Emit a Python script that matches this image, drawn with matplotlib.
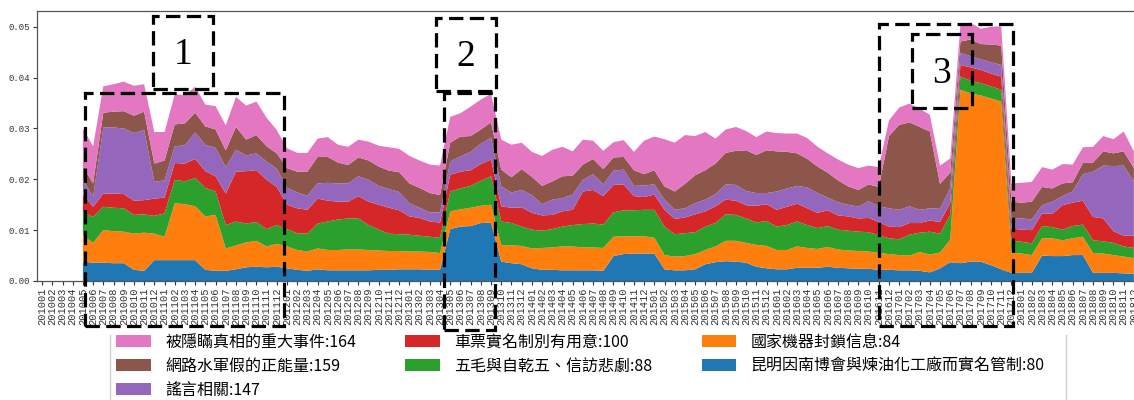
import numpy as np
import matplotlib
matplotlib.use("Agg")
import matplotlib.pyplot as plt
from matplotlib.patches import Rectangle
from matplotlib.lines import Line2D

# monthly labels 201001 .. 201812, data starts at 201005
months = [f"{y}{m:02d}" for y in range(2010, 2019) for m in range(1, 13)]
start = months.index("201005")

# values in units of 1e-3, one row per year (2010 starts in May)
kunming = np.array([
    3.8, 3.6, 3.6, 3.5, 3.5, 2.2, 2.0, 4.1,
    4.1, 4.1, 4.1, 4.1, 2.2, 2.0, 2.0, 2.3, 2.7, 2.8, 2.7, 2.8,
    2.5, 2.2, 2.0, 2.3, 2.1, 2.1, 2.1, 2.1, 2.1, 2.2, 2.2, 2.3,
    2.3, 2.3, 2.2, 2.2, 10.2, 10.7, 10.8, 11.4, 11.5, 3.8, 3.5, 3.3,
    2.5, 2.2, 2.2, 2.1, 2.1, 2.1, 2.1, 2.0, 4.9, 5.3, 5.4, 5.4,
    5.4, 2.3, 2.1, 2.1, 2.3, 3.3, 3.7, 3.9, 3.8, 3.6, 2.8, 2.5,
    2.3, 2.3, 2.6, 2.6, 2.6, 2.8, 2.6, 2.5, 2.4, 2.4, 2.2, 2.2,
    2.1, 2.1, 2.0, 1.7, 2.5, 3.7, 3.5, 3.8, 3.8, 3.1, 2.3, 1.6,
    1.6, 1.6, 5.0, 4.9, 4.9, 5.1, 5.1, 1.6, 1.6, 1.6, 1.5, 1.4,
]) / 1000
blockade = np.array([
    5.2, 3.9, 6.4, 6.3, 6.2, 7.1, 7.5, 5.2,
    4.6, 11.2, 11.0, 10.6, 10.5, 11.0, 4.4, 4.7, 4.9, 5.1, 4.1, 4.5,
    4.3, 3.9, 3.8, 4.1, 4.0, 4.0, 4.1, 4.1, 4.0, 3.8, 3.7, 3.6,
    3.5, 3.5, 3.5, 3.3, 3.5, 3.4, 3.6, 3.4, 3.5, 3.3, 3.5, 3.6,
    3.9, 4.3, 4.4, 4.7, 4.7, 4.5, 4.5, 4.5, 3.8, 3.5, 3.4, 3.4,
    3.1, 2.8, 2.7, 2.8, 3.0, 2.8, 3.1, 4.0, 4.1, 3.9, 4.3, 4.4,
    3.8, 3.8, 4.2, 3.9, 3.7, 3.9, 3.6, 3.5, 3.5, 3.4, 3.3, 3.1,
    3.0, 2.9, 3.7, 3.5, 3.1, 4.4, 34.1, 33.1, 32.7, 32.8, 33.0, 4.0,
    3.8, 3.5, 3.4, 3.5, 3.1, 3.3, 3.6, 3.9, 3.8, 3.5, 3.3, 3.1,
]) / 1000
wumao = np.array([
    4.6, 5.1, 4.6, 4.6, 4.6, 3.7, 3.6, 3.5,
    4.6, 4.6, 4.5, 5.6, 5.6, 4.6, 4.6, 4.7, 3.7, 3.7, 3.4, 3.7,
    3.4, 3.3, 3.5, 4.9, 5.6, 6.0, 6.1, 6.1, 4.9, 4.1, 3.4, 3.3,
    3.3, 3.1, 3.0, 3.0, 3.9, 4.1, 4.3, 4.9, 5.6, 4.6, 4.4, 3.8,
    3.7, 3.4, 3.6, 3.9, 4.2, 4.6, 4.7, 4.6, 4.8, 5.1, 5.1, 5.2,
    5.5, 5.6, 4.4, 4.5, 4.3, 4.6, 4.6, 5.2, 5.1, 4.8, 4.4, 4.9,
    4.6, 4.9, 4.9, 4.5, 4.1, 4.1, 3.9, 3.9, 3.8, 3.8, 3.5, 3.1,
    3.1, 4.1, 3.8, 4.5, 3.7, 4.9, 2.6, 2.5, 2.4, 2.4, 2.3, 2.4,
    2.3, 2.3, 2.4, 2.2, 2.1, 2.4, 2.4, 2.5, 2.4, 2.4, 2.0, 2.0,
]) / 1000
ticket = np.array([
    3.5, 2.0, 2.6, 2.8, 2.8, 2.8, 2.8, 3.4,
    3.1, 3.3, 3.5, 3.7, 3.3, 3.0, 6.2, 9.8, 10.3, 10.2, 9.7, 7.5,
    4.8, 4.9, 4.7, 4.9, 4.1, 3.5, 3.3, 4.4, 4.6, 4.9, 5.1, 4.7,
    3.6, 3.5, 3.0, 3.0, 3.3, 3.3, 3.1, 3.3, 3.3, 3.0, 3.0, 3.8,
    3.3, 3.0, 2.8, 3.0, 3.0, 6.4, 6.6, 5.6, 5.4, 5.1, 2.8, 2.5,
    3.0, 3.3, 3.0, 3.1, 3.5, 3.0, 3.3, 2.9, 2.8, 2.6, 3.3, 3.3,
    3.3, 3.6, 3.5, 3.3, 3.0, 3.1, 2.8, 2.8, 2.6, 2.8, 2.6, 2.3,
    2.4, 2.3, 1.9, 2.2, 2.3, 2.3, 2.3, 2.6, 2.6, 2.5, 2.6, 2.3,
    2.4, 2.6, 2.5, 2.6, 4.8, 4.6, 4.7, 4.6, 4.5, 2.3, 2.1, 2.4,
]) / 1000
rumor = np.array([
    2.8, 2.0, 13.0, 13.0, 12.9, 13.3, 13.8, 3.3,
    3.4, 3.3, 3.6, 5.2, 5.2, 5.6, 5.2, 4.3, 3.1, 3.3, 3.6, 3.6,
    3.3, 3.1, 2.8, 3.0, 3.5, 3.6, 3.6, 3.9, 4.3, 3.7, 3.7, 3.6,
    2.6, 2.0, 1.8, 2.0, 2.6, 3.0, 3.6, 4.0, 4.3, 3.9, 3.0, 3.4,
    3.5, 2.2, 3.0, 2.6, 3.0, 2.3, 3.1, 2.3, 2.8, 2.9, 2.0, 2.3,
    2.0, 2.0, 1.8, 1.8, 2.2, 2.3, 2.4, 3.0, 3.1, 2.8, 2.5, 2.2,
    3.6, 3.6, 3.5, 4.1, 3.9, 2.5, 2.6, 2.3, 2.3, 3.3, 3.1, 3.6,
    3.4, 3.3, 2.6, 2.4, 2.6, 3.0, 2.4, 2.2, 2.1, 2.2, 2.3, 2.0,
    2.2, 2.1, 1.6, 2.4, 1.8, 2.2, 5.2, 8.9, 10.4, 12.8, 13.8, 10.7,
]) / 1000
water_army = np.array([
    2.6, 2.6, 2.9, 3.1, 3.4, 3.4, 3.6, 3.6,
    3.9, 4.3, 4.3, 3.9, 3.6, 3.6, 3.3, 4.5, 3.1, 3.6, 3.0, 3.0,
    3.9, 4.1, 4.7, 5.2, 5.1, 4.1, 3.6, 3.7, 3.8, 3.8, 3.6, 3.9,
    3.9, 3.9, 3.8, 3.4, 3.7, 3.9, 3.1, 2.8, 3.0, 3.3, 3.0, 4.1,
    3.6, 3.6, 3.6, 4.3, 3.7, 3.0, 3.0, 3.0, 2.6, 2.5, 3.1, 2.2,
    2.8, 2.6, 3.6, 4.8, 5.5, 5.8, 6.0, 6.2, 6.7, 8.0, 7.5, 8.4,
    7.9, 7.2, 6.4, 5.6, 5.2, 4.9, 4.3, 3.6, 3.3, 3.3, 3.8, 14.2,
    16.7, 16.5, 16.3, 15.1, 4.9, 3.0, 2.2, 3.3, 3.0, 3.5, 3.8, 3.3,
    3.1, 3.5, 3.6, 2.6, 2.5, 1.8, 2.2, 1.8, 2.8, 2.5, 2.8, 2.6,
]) / 1000
hidden = np.array([
    7.5, 7.3, 5.2, 5.4, 5.8, 5.9, 5.4, 6.2,
    5.6, 5.9, 5.6, 5.1, 4.3, 4.6, 4.9, 5.9, 6.7, 6.6, 5.6, 4.6,
    3.9, 3.7, 3.7, 3.6, 3.9, 3.5, 3.6, 3.5, 3.7, 4.1, 4.6, 4.6,
    5.4, 5.4, 5.6, 5.8, 5.1, 4.6, 5.8, 5.9, 5.6, 5.9, 6.4, 5.2,
    4.9, 5.9, 6.2, 5.8, 4.8, 4.9, 3.6, 3.6, 3.0, 3.3, 3.6, 6.6,
    6.6, 9.3, 9.6, 9.6, 7.7, 7.5, 4.9, 4.6, 4.7, 3.8, 3.5, 3.7,
    3.6, 3.6, 3.9, 4.1, 3.9, 3.8, 4.1, 4.3, 4.3, 3.7, 3.9, 3.1,
    3.4, 3.7, 3.6, 3.3, 3.6, 2.8, 3.3, 3.3, 3.0, 3.5, 3.8, 3.6,
    3.9, 3.9, 3.9, 3.7, 3.8, 3.5, 3.1, 3.1, 3.0, 2.8, 3.9, 3.3,
]) / 1000

series = [kunming, blockade, wumao, ticket, rumor, water_army, hidden]
labels = [
    "昆明因南博會與煉油化工廠而實名管制:80",
    "國家機器封鎖信息:84",
    "五毛與自乾五、信訪悲劇:88",
    "車票實名制別有用意:100",
    "謠言相關:147",
    "網路水軍假的正能量:159",
    "被隱瞞真相的重大事件:164",
]
colors = ["#1f77b4", "#ff7f0e", "#2ca02c", "#d62728", "#9467bd", "#8c564b", "#e377c2"]

W, H = 1134, 400
fig = plt.figure(figsize=(W / 100, H / 100), dpi=100)


def px(x0, y0, x1, y1):
    # pixel box -> figure fraction (left, bottom, width, height)
    return x0 / W, 1 - y1 / H, (x1 - x0) / W, (y1 - y0) / H


ax = fig.add_axes(px(37, 11, 1140, 281))
x = np.arange(start, len(months))
ax.stackplot(x, *series, colors=colors, labels=labels)

ax.set_xlim(-0.5, 107.6)
ax.set_ylim(0, 0.0531)
ax.set_xticks(range(len(months)))
ax.set_xticklabels(months, rotation=90, fontsize=7.5, family="Liberation Mono")
ax.set_yticks([0, 0.01, 0.02, 0.03, 0.04, 0.05])
ax.set_yticklabels(["0.00", "0.01", "0.02", "0.03", "0.04", "0.05"],
                   fontsize=6.5, family="Liberation Mono")
ax.tick_params(axis="both", length=3, width=0.8, pad=2, colors="#333333")
for s in ax.spines.values():
    s.set_color("#555555")
    s.set_linewidth(0.9)

handles, labs = ax.get_legend_handles_labels()
leg = fig.legend(handles[::-1], labs[::-1], ncol=3, loc="upper left",
                 bbox_to_anchor=(110 / W, 1 - 327 / H), borderaxespad=0,
                 prop={"family": ["Noto Sans CJK TC", "DejaVu Sans"], "size": 11.5},
                 frameon=False,
                 handlelength=2.15, handleheight=0.75, handletextpad=0.9,
                 labelspacing=0.45, columnspacing=3.1, borderpad=0.4)
# the legend frame only shows its side edges in the crop
for xe in (110, 1066):
    fig.add_artist(Line2D([xe / W, xe / W], [1 - 335 / H, 0], transform=fig.transFigure,
                          color="#d0d0d0", linewidth=1.0))

# dashed highlight boxes with their numbers
boxes = [(85, 93, 284, 326), (153, 16, 213, 89),
         (444, 93, 495, 330), (436, 18, 496, 91),
         (879, 24, 1013, 326), (912, 34, 972, 108)]
for b in boxes:
    l, bt, w, h = px(*b)
    fig.patches.append(Rectangle((l, bt), w, h, transform=fig.transFigure,
                                 fill=False, edgecolor="black", linewidth=2.3,
                                 linestyle=(0, (4.5, 2)), zorder=10))
for num, (cx, cy) in zip(["1", "2", "3"], [(183, 55), (466, 57), (942, 74)]):
    fig.text(cx / W, 1 - cy / H, num, ha="center", va="center",
             fontsize=27, family="Liberation Serif", zorder=11)

fig.savefig("out.png", dpi=100)
